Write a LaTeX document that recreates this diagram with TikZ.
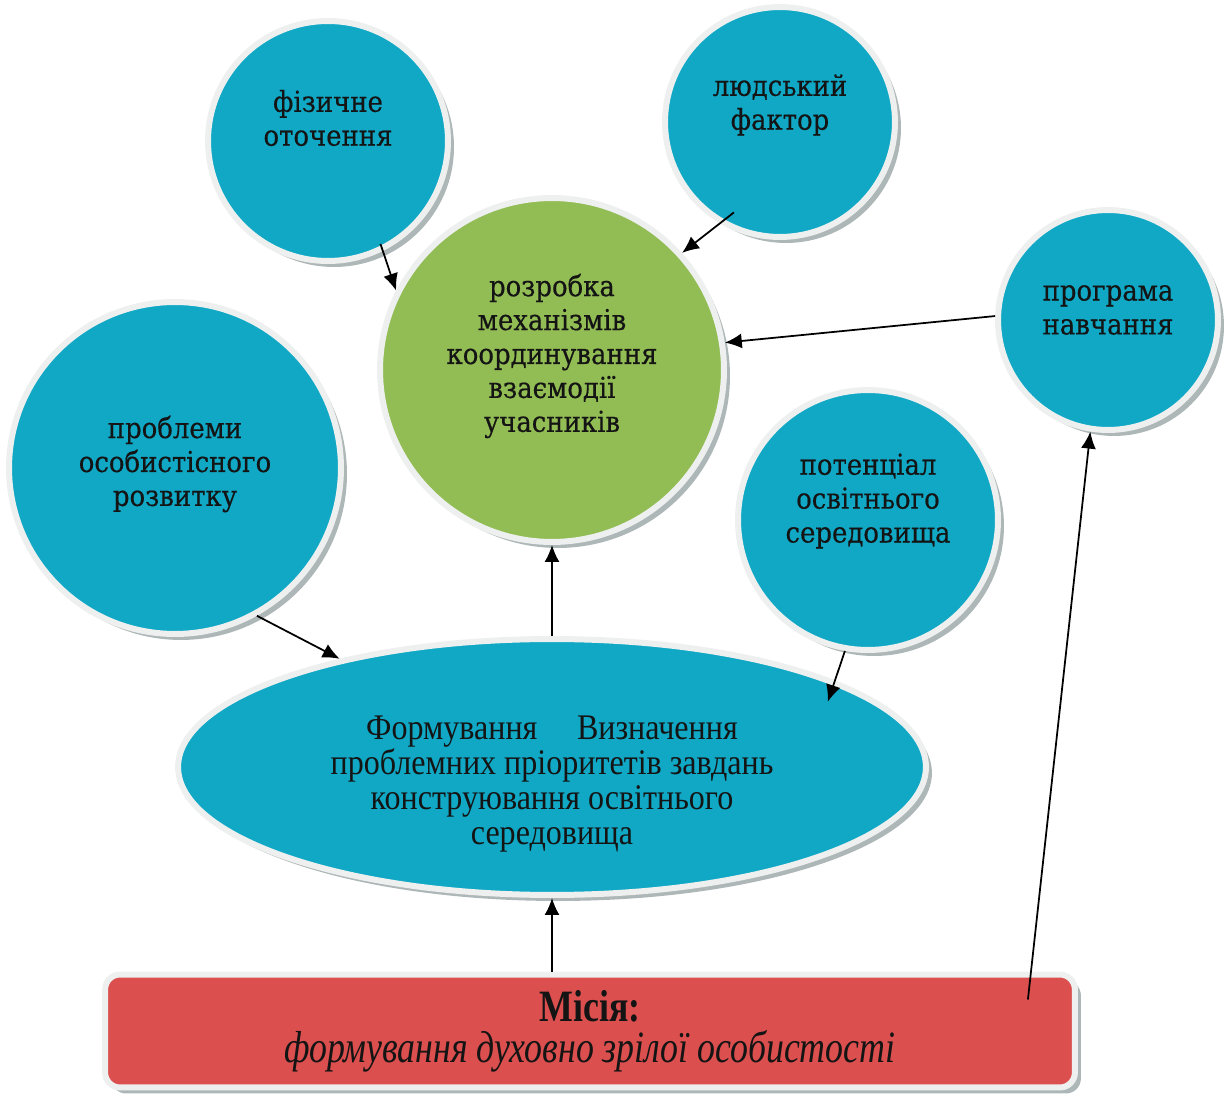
\documentclass[tikz,border=0pt]{standalone}
\usepackage{fontspec}
\setmainfont[FakeStretch=0.9, FakeBold=0.4]{DejaVu Serif}
\newfontfamily\ellfont[FakeStretch=0.89]{Liberation Serif}
\newfontfamily\misfont[FakeStretch=0.8]{Liberation Serif}
\usetikzlibrary{shapes.geometric,shadows,arrows.meta,calc}
\definecolor{bluec}{RGB}{16,168,197}
\definecolor{greenc}{RGB}{146,188,84}
\definecolor{redc}{RGB}{219,79,78}
\definecolor{ringc}{RGB}{238,240,240}
\definecolor{shadc}{RGB}{165,175,175}
\definecolor{textc}{RGB}{20,20,20}

\begin{document}
\begin{tikzpicture}[x=0.02cm, y=-0.02cm,
		bub/.style={circle, fill=bluec, draw=ringc, line width=1.2mm,
			drop shadow={shadow xshift=1.2mm, shadow yshift=-1.2mm, fill=shadc, opacity=0.9}},
		misbox/.style={rectangle, rounded corners=0.3cm, fill=redc, draw=ringc, line width=1.2mm,
			minimum width=19.4cm, minimum height=2.26cm, align=center, text=textc,
			drop shadow={shadow xshift=1.2mm, shadow yshift=-1.2mm, fill=shadc, opacity=0.9}},
		every label/.style={align=center, text=textc, font=\fontsize{16.4}{19.3}\selectfont},
		arr/.style={-{Latex[length=3.4mm, width=3mm]}, line width=1pt, black}]
	\useasboundingbox (0,0) rectangle (1231,1097);

	\node[bub, minimum size=4.8cm, label={[yshift=0.46cm]center:фізичне\\оточення}] (fiz) at (328,141) {};
	\node[bub, minimum size=4.6cm, label={[yshift=0.34cm]center:людський\\фактор}] (lud) at (780,122) {};
	\node[bub, fill=greenc, minimum size=6.88cm,
		label={[yshift=0.28cm]center:розробка\\механізмів\\координування\\взаємодії\\учасників}] (rozr) at (552,370) {};
	\node[bub, minimum size=4.4cm, label={[yshift=0.2cm]center:програма\\навчання}] (prog) at (1108,320) {};
	\node[bub, minimum size=6.64cm, label={[yshift=0.08cm]center:проблеми\\особистісного\\розвитку}] (prob) at (175,468) {};
	\node[bub, minimum size=5.2cm, label={[yshift=0.38cm]center:потенціал\\освітнього\\середовища}] (pot) at (868,520) {};
	\node[bub, ellipse, minimum width=14.96cm, minimum height=5.12cm,
		label={[yshift=-0.34cm, font=\ellfont\fontsize{20.5}{19.8}\selectfont]center:Формування\hspace{1.1em}Визначення\\проблемних пріоритетів завдань\\конструювання освітнього\\середовища}] (form) at (552,767) {};
	\node[misbox, font=\misfont\fontsize{25.5}{23.3}\selectfont] (mis) at (590,1031) {\bfseries Місія:\\\itshape формування духовно зрілої особистості};

	\coordinate (misrt) at ($(mis.north east)+(-1.0cm,-0.56cm)$);

	\draw[arr] ($(fiz.center)!0.94!(fiz.-63)$) -- (rozr.153);
	\draw[arr] ($(lud.center)!0.86!(lud.-117)$) -- (rozr.42);
	\draw[arr] (prog.178) -- (rozr.9);
	\draw[arr] (form.north) -- (rozr.south);
	\draw[arr] (prob.-61) -- (form.153);
	\draw[arr, shorten >=-0.45cm] (pot.-100) -- (form.17);
	\draw[arr] (mis.north -| form.south) -- (form.south);
	\draw[arr] (misrt) -- (prog.-99);
\end{tikzpicture}
\end{document}
